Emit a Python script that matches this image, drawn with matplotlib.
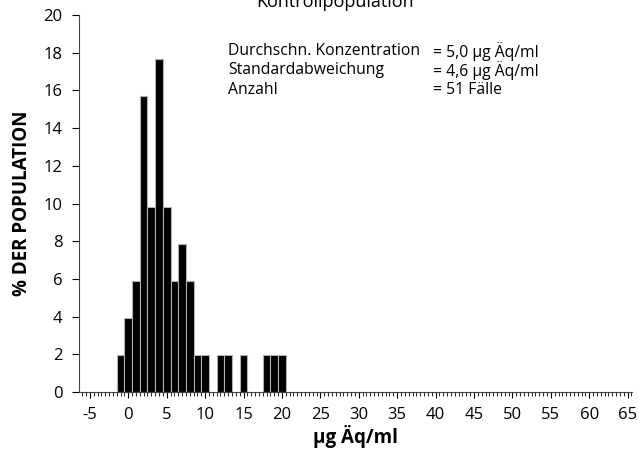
import matplotlib.pyplot as plt
from matplotlib.ticker import MultipleLocator

plt.rcParams['font.family'] = ['Open Sans', 'DejaVu Sans']
plt.rcParams['axes.unicode_minus'] = False

# bin centres (µg Äq/ml) and share of the 51 cases in %
conc = [-1, 0, 1, 2, 3, 4, 5, 6, 7, 8, 9, 10, 12, 13, 15, 18, 19, 20]
pct = [1.96, 3.92, 5.88, 15.69, 9.80, 17.65, 9.80, 5.88, 7.84, 5.88, 1.96, 1.96,
       1.96, 1.96, 1.96, 1.96, 1.96, 1.96]

stat_names = ['Durchschn. Konzentration', 'Standardabweichung', 'Anzahl']
stat_values = ['= 5,0 µg Äq/ml', '= 4,6 µg Äq/ml', '= 51 Fälle']

fig = plt.figure(figsize=(6.38, 4.57), dpi=100)
ax = fig.add_axes([0.124, 0.142, 0.867, 0.825])

ax.bar(conc, pct, width=1.0, color='black', edgecolor='#b0b0b0', linewidth=0.8)

ax.set_xlim(-6.4, 65.6)
ax.set_ylim(0, 20)
ax.xaxis.set_major_locator(MultipleLocator(5))
ax.xaxis.set_minor_locator(MultipleLocator(0.5))
ax.yaxis.set_major_locator(MultipleLocator(2))
ax.tick_params(axis='x', which='major', length=4, width=0.8, labelsize=12, pad=7)
ax.tick_params(axis='x', which='minor', length=3, width=0.6)
ax.tick_params(axis='y', which='major', length=5, width=0.8, labelsize=12, pad=7)

for s in ['top', 'right']:
    ax.spines[s].set_visible(False)
ax.spines['left'].set_color('#444444')
ax.spines['bottom'].set_color('#444444')

ax.set_xlabel('µg Äq/ml', fontsize=13.5, fontweight='bold', labelpad=1)
ax.set_ylabel('% DER POPULATION', fontsize=13.5, fontweight='bold', labelpad=8)

fig.text(0.525, 0.975, 'Kontrollpopulation', fontsize=13, ha='center', va='bottom')

for i in range(3):
    y = 0.888 - i * 0.042
    fig.text(0.357, y, stat_names[i], fontsize=11.3, va='center')
    fig.text(0.678, y, stat_values[i], fontsize=11.3, va='center')

fig.savefig('out.png', dpi=100)
